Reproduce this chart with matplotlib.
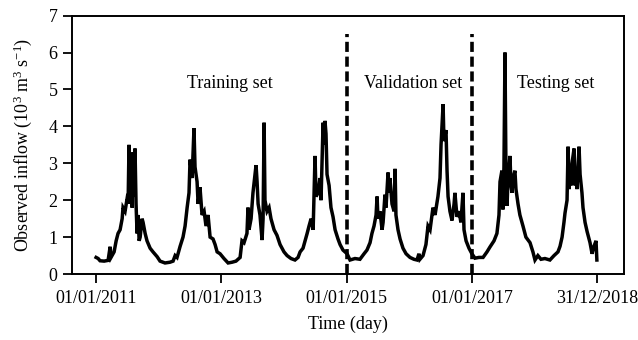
import pandas as pd
import matplotlib
matplotlib.use("Agg")
import matplotlib.pyplot as plt

plt.rcParams['font.family'] = ['Liberation Serif', 'DejaVu Serif']
plt.rcParams['mathtext.fontset'] = 'custom'
plt.rcParams['mathtext.rm'] = 'Liberation Serif'
plt.rcParams['mathtext.it'] = 'Liberation Serif:italic'

# days since 01/01/2011, observed inflow (10^3 m3/s)
day = [0, 12, 23, 47, 70, 82, 87, 105, 117, 128, 140, 152, 157, 169, 181, 187, 192, 198, 204, 210,
       216, 222, 227, 233, 239, 245, 251, 257, 268, 274, 286, 297, 315, 332, 356, 373, 402, 431, 449, 461,
       472, 490, 507, 519, 531, 542, 548, 560, 571, 577, 589, 595, 606, 618, 630, 641, 653, 665, 682, 694,
       706, 723, 746, 770, 793, 816, 840, 851, 863, 880, 886, 892, 904, 915, 933, 939, 945, 956, 968, 974,
       980, 985, 997, 1009, 1020, 1038, 1055, 1073, 1096, 1114, 1137, 1160, 1178, 1190, 1207, 1219, 1231, 1242, 1254, 1266,
       1277, 1283, 1295, 1306, 1312, 1318, 1324, 1330, 1335, 1341, 1347, 1359, 1370, 1382, 1394, 1411, 1423, 1440, 1464, 1481,
       1510, 1539, 1563, 1580, 1598, 1609, 1621, 1633, 1639, 1644, 1656, 1668, 1674, 1685, 1691, 1703, 1709, 1714, 1726, 1738,
       1744, 1749, 1761, 1773, 1790, 1808, 1831, 1854, 1872, 1883, 1889, 1907, 1924, 1936, 1948, 1965, 1977, 1994, 2006, 2012,
       2024, 2029, 2041, 2047, 2053, 2064, 2076, 2088, 2093, 2105, 2117, 2128, 2140, 2146, 2158, 2175, 2192, 2210, 2233, 2257,
       2280, 2297, 2321, 2338, 2350, 2356, 2367, 2373, 2379, 2385, 2391, 2397, 2402, 2414, 2420, 2426, 2432, 2443, 2449, 2461,
       2472, 2490, 2507, 2531, 2548, 2560, 2577, 2595, 2618, 2647, 2671, 2694, 2706, 2718, 2729, 2735, 2747, 2753, 2759, 2764,
       2770, 2776, 2788, 2794, 2799, 2805, 2817, 2823, 2834, 2840, 2852, 2864, 2881, 2893, 2904, 2916, 2921]
inflow = [0.45, 0.42, 0.36, 0.35, 0.37, 0.74, 0.45, 0.6, 0.9, 1.1, 1.2, 1.5, 1.8, 1.7, 2.05, 2.0, 3.5, 1.9, 3.1, 1.8,
          3.3, 2.1, 3.4, 1.9, 1.1, 1.6, 0.9, 1.0, 1.5, 1.4, 1.1, 0.9, 0.7, 0.6, 0.47, 0.35, 0.3, 0.32, 0.35, 0.5,
          0.45, 0.75, 1.0, 1.3, 1.8, 2.2, 3.1, 2.6, 3.95, 2.9, 2.5, 1.9, 2.35, 1.6, 1.7, 1.3, 1.6, 1.0, 0.95, 0.8,
          0.6, 0.55, 0.42, 0.3, 0.32, 0.35, 0.45, 0.9, 0.85, 1.1, 1.8, 1.2, 1.5, 2.2, 2.95, 2.5, 1.9, 1.6, 0.92, 1.5,
          4.1, 2.0, 1.7, 1.8, 1.5, 1.2, 1.05, 0.8, 0.6, 0.5, 0.42, 0.38, 0.45, 0.6, 0.7, 0.9, 1.1, 1.3, 1.5, 1.2,
          3.2, 2.1, 2.2, 2.6, 2.0, 3.0, 4.1, 3.5, 4.15, 3.8, 2.7, 2.4, 1.8, 1.55, 1.2, 0.95, 0.8, 0.65, 0.55, 0.38,
          0.42, 0.4, 0.55, 0.65, 0.85, 1.1, 1.3, 1.6, 2.1, 1.5, 1.7, 1.2, 1.4, 2.15, 1.8, 2.75, 2.2, 2.6, 1.9, 1.7,
          2.85, 1.6, 1.2, 0.95, 0.7, 0.55, 0.45, 0.4, 0.38, 0.55, 0.4, 0.5, 0.8, 1.3, 1.2, 1.8, 1.6, 2.1, 2.6, 3.5,
          4.6, 3.6, 3.9, 2.8, 2.1, 1.7, 1.45, 1.9, 2.2, 1.55, 1.7, 1.4, 2.2, 1.2, 0.9, 0.7, 0.55, 0.43, 0.45, 0.45,
          0.6, 0.73, 0.9, 1.1, 1.6, 2.5, 2.8, 1.75, 2.9, 6.0, 2.6, 1.85, 2.5, 3.2, 2.4, 2.2, 2.6, 2.8, 2.3, 1.9,
          1.6, 1.3, 1.0, 0.85, 0.6, 0.38, 0.5, 0.4, 0.42, 0.38, 0.5, 0.6, 0.75, 1.0, 1.4, 1.65, 2.0, 3.45, 2.3, 2.9,
          2.4, 3.0, 3.4, 2.4, 2.8, 2.3, 3.45, 2.7, 2.2, 1.8, 1.4, 1.15, 0.85, 0.55, 0.75, 0.9, 0.38]

split_days = [1461, 2192]          # 01/01/2015, 01/01/2017
tick_days = [0, 731, 1461, 2192, 2921]
tick_labels = ['01/01/2011', '01/01/2013', '01/01/2015', '01/01/2017', '31/12/2018']
set_names = ['Training set', 'Validation set', 'Testing set']
set_label_days = [780, 1850, 2680]

fig = plt.figure(figsize=(6.38, 3.4), dpi=100)
ax = fig.add_axes([0.113, 0.194, 0.865, 0.76])

ax.plot(day, inflow, color='black', lw=2.5, solid_joinstyle='miter')
for d in split_days:
    ax.plot([d, d], [0, 6.5], color='black', lw=2.6, linestyle=(0, (2.8, 1.3)))
for name, d in zip(set_names, set_label_days):
    ax.text(d, 5.15, name, ha='center', va='center', fontsize=13)

ax.set_xlim(-140, 3079)
ax.set_ylim(0, 7)
ax.set_xticks(tick_days)
ax.set_xticklabels(tick_labels)
ax.set_yticks(range(8))
ax.tick_params(direction='out', length=6.5, width=1.3, labelsize=13)
ax.tick_params(axis='x', pad=5)
ax.tick_params(axis='y', pad=4)
for s in ax.spines.values():
    s.set_linewidth(1.4)
ax.set_xlabel('Time (day)', fontsize=13, labelpad=6)
ax.set_ylabel('Observed inflow (10$^{3}$ m$^{3}$ s$^{-1}$)', fontsize=13, labelpad=10)

fig.savefig('out.png', dpi=100)
